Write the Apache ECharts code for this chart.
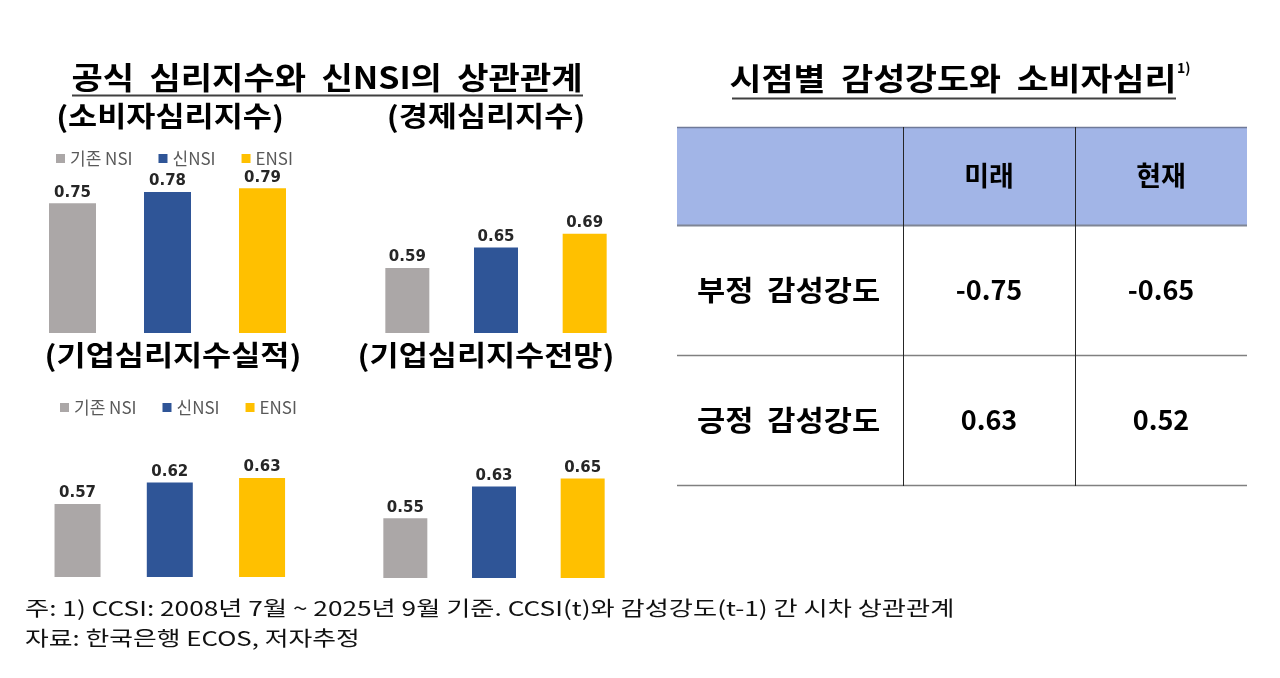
<!DOCTYPE html>
<html><head><meta charset="utf-8">
<script src="https://cdn.jsdelivr.net/npm/echarts@6/dist/echarts.min.js"></script>
<style>html,body{margin:0;padding:0;background:#fff}#chart{width:1280px;height:678px}</style>
</head><body><div id="chart"></div>
<script>
// ---- data ----
const categories = ['기존 NSI', '신NSI', 'ENSI'];
const consumerIndex = [0.75, 0.78, 0.79];
const economicIndex = [0.59, 0.65, 0.69];
const businessActual = [0.57, 0.62, 0.63];
const businessOutlook = [0.55, 0.63, 0.65];
const panelTitles = ['(소비자심리지수)', '(경제심리지수)', '(기업심리지수실적)', '(기업심리지수전망)'];
const leftTitle = '공식  심리지수와  신NSI의  상관관계';
const rightTitle = '시점별  감성강도와  소비자심리';
const rightTitleNote = '1)';
const tableHeader = ['미래', '현재'];
const tableRowLabels = ['부정  감성강도', '긍정  감성강도'];
const negativeIntensity = [-0.75, -0.65];
const positiveIntensity = [0.63, 0.52];
const footnotes = [
  '주: 1) CCSI: 2008년 7월 ~ 2025년 9월 기준. CCSI(t)와 감성강도(t-1) 간 시차 상관관계',
  '자료: 한국은행 ECOS, 저자추정'
];

// ---- layout / style ----
const colors = ['#ABA7A7', '#2F5597', '#FFC000'];
const KR = '"Noto Sans CJK KR", "Noto Sans", sans-serif';
const panelValues = [consumerIndex, economicIndex, businessActual, businessOutlook];
const panelLayout = [
  { left: 25,   width: 285,   top: 169.8, height: 163.2, max: 0.84, barWidth: 47 },
  { left: 363,  width: 266,   top: 209.9, height: 123.1, max: 0.76, barWidth: 44 },
  { left: 31.4, width: 276.8, top: 448,   height: 129,   max: 0.70, barWidth: 46 },
  { left: 361,  width: 266,   top: 458.6, height: 119.4, max: 0.70, barWidth: 44 }
];
const titlePos = [
  { x: 170, y: 116 }, { x: 486, y: 116 }, { x: 173, y: 355 }, { x: 486, y: 355 }
];

const grid = [], xAxis = [], yAxis = [], series = [];
panelLayout.forEach((p, g) => {
  grid.push({ left: p.left, top: p.top, width: p.width, height: p.height });
  xAxis.push({ type: 'category', gridIndex: g, data: categories, show: false });
  yAxis.push({ type: 'value', gridIndex: g, min: 0.4, max: p.max, show: false });
  categories.forEach((name, i) => {
    series.push({
      type: 'bar', name: name, xAxisIndex: g, yAxisIndex: g,
      data: categories.map((c, j) => (j === i ? panelValues[g][j] : '-')),
      barWidth: p.barWidth, barGap: '-100%',
      itemStyle: { color: colors[i] },
      label: {
        show: true, position: 'top', distance: 3,
        formatter: (prm) => Number(prm.value).toFixed(2),
        fontFamily: '"DejaVu Sans", sans-serif', fontWeight: 'bold', fontSize: 15, color: '#262626'
      }
    });
  });
});

const graphic = [];
function txt(x, y, text, size, weight, align, sx, color) {
  graphic.push({
    type: 'text', x: x, y: y, scaleX: sx || 1, silent: true,
    style: { text: text, fontFamily: KR, fontSize: size, fontWeight: weight,
      fill: color || '#000', textAlign: align, textVerticalAlign: 'middle' }
  });
}
function line(x1, y1, x2, y2, stroke, w) {
  graphic.push({ type: 'line', silent: true, shape: { x1, y1, x2, y2 }, style: { stroke, lineWidth: w } });
}
// titles
txt(327, 77, leftTitle, 30.5, 'bold', 'center', 1.115);
line(72, 95.5, 583, 95.5, '#404040', 2);
txt(953, 78, rightTitle, 31, 'bold', 'center', 1.12);
txt(1177, 68, rightTitleNote, 14, 'bold', 'left', 1);
line(732, 98.5, 1176, 98.5, '#404040', 2);
panelTitles.forEach((t, i) => txt(titlePos[i].x, titlePos[i].y, t, 28, 'bold', 'center', 1.13));

// table
graphic.push({ type: 'rect', silent: true, shape: { x: 677, y: 127, width: 570, height: 98 }, style: { fill: '#A2B5E7' } });
line(677, 127.5, 1247, 127.5, '#6F7A99', 1.5);
line(677, 225.5, 1247, 225.5, '#7F8594', 2);
line(677, 355.5, 1247, 355.5, '#808080', 1.5);
line(677, 485.5, 1247, 485.5, '#808080', 1.5);
line(903.5, 127, 903.5, 486, '#262626', 1);
line(1075.5, 127, 1075.5, 486, '#262626', 1);
const colX = [989, 1161];
const rowY = [290, 420];
tableHeader.forEach((h, i) => txt(colX[i], 176, h, 27, 'bold', 'center', 1));
tableRowLabels.forEach((r, i) => txt(697, rowY[i], r, 28, 'bold', 'left', 1.095));
negativeIntensity.forEach((v, i) => txt(colX[i], rowY[0], v.toFixed(2), 27, 'bold', 'center', 1));
positiveIntensity.forEach((v, i) => txt(colX[i], rowY[1], v.toFixed(2), 27, 'bold', 'center', 1));

// footnotes
txt(25, 608, footnotes[0], 20.5, 'normal', 'left', 1.28, '#111');
txt(25, 638, footnotes[1], 20.5, 'normal', 'left', 1.26, '#111');

const legendStyle = {
  data: categories, icon: 'rect', itemWidth: 9, itemHeight: 9, itemGap: 26,
  textStyle: { fontFamily: KR, fontSize: 17, color: '#595959' }, selectedMode: false
};

const chart = echarts.init(document.getElementById('chart'));
chart.setOption({
  animation: false,
  backgroundColor: '#fff',
  legend: [
    Object.assign({ left: 51, top: 145 }, legendStyle),
    Object.assign({ left: 55, top: 394 }, legendStyle)
  ],
  grid, xAxis, yAxis, series, graphic
});
</script></body></html>
